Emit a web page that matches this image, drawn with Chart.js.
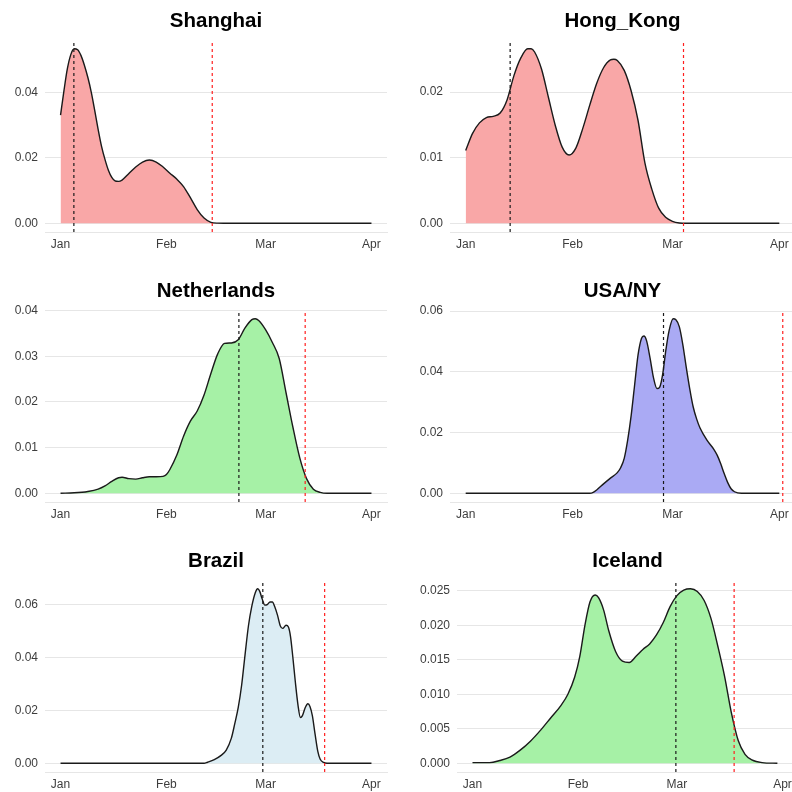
<!DOCTYPE html>
<html>
<head>
<meta charset="utf-8">
<script src="https://cdn.jsdelivr.net/npm/chart.js@4.4.1/dist/chart.umd.min.js"></script>
<style>
  html, body { margin: 0; padding: 0; background: #fff; overflow: hidden; }
  #page { position: relative; width: 792px; height: 792px; overflow: hidden; background: #fff; }
  #page canvas { position: absolute; }
</style>
</head>
<body>
<div id="page">
  <canvas id="shanghai"></canvas>
  <canvas id="hongkong"></canvas>
  <canvas id="netherlands"></canvas>
  <canvas id="usany"></canvas>
  <canvas id="brazil"></canvas>
  <canvas id="iceland"></canvas>
</div>
<script>
// x axis: days since 1 Jan 2020
const monthTicks = [0, 31, 60, 91];
const monthLabels = ['Jan', 'Feb', 'Mar', 'Apr'];

// Shanghai
const shanghaiDays = [0, 1, 2, 3, 4, 5, 6, 7, 8, 9, 10, 11, 12, 13, 14, 15, 16, 17, 18, 20, 22, 24, 26, 28, 30, 32, 34, 36, 38, 40, 42, 44, 46, 50, 91];
const shanghaiDensity = [0.033, 0.0405, 0.0472, 0.0515, 0.0533, 0.0530, 0.0512, 0.0482, 0.0445, 0.0400, 0.0345, 0.0287, 0.0235, 0.0195, 0.0162, 0.0140, 0.0129, 0.0128, 0.0132, 0.0152, 0.0172, 0.0187, 0.0193, 0.0187, 0.0172, 0.0153, 0.0135, 0.0112, 0.0078, 0.0042, 0.0016, 0.0003, 0.00005, 0, 0];
const shanghaiYTicks = [0, 0.02, 0.04];
const shanghaiYLabels = ['0.00', '0.02', '0.04'];
const shanghaiBlackLine = 3.9;
const shanghaiRedLine = 44.4;

// Hong_Kong
const hongKongDays = [0, 2, 4, 6, 8, 10, 12, 14, 16, 18, 19, 20, 22, 24, 26, 28, 30, 32, 34, 36, 38, 40, 42, 43, 44, 46, 48, 50, 52, 54, 56, 58, 60, 62, 64, 91];
const hongKongDensity = [0.0111, 0.0137, 0.0153, 0.0161, 0.0163, 0.0168, 0.0188, 0.0225, 0.0252, 0.0266, 0.0266, 0.0261, 0.0235, 0.0192, 0.0149, 0.0116, 0.0104, 0.0115, 0.0145, 0.0180, 0.0213, 0.0237, 0.0249, 0.0250, 0.0248, 0.0233, 0.0202, 0.0157, 0.0092, 0.0052, 0.0023, 0.0009, 0.0003, 0.00005, 0, 0];
const hongKongYTicks = [0, 0.01, 0.02];
const hongKongYLabels = ['0.00', '0.01', '0.02'];
const hongKongBlackLine = 12.9;
const hongKongRedLine = 63.2;

// Netherlands
const netherlandsDays = [0, 4, 8, 11, 13, 15, 17, 18, 20, 22, 24, 26, 28, 30, 31, 32, 34, 36, 38, 40, 42, 44, 46, 48, 50, 52, 54, 56, 57, 58, 60, 62, 64, 66, 68, 70, 72, 74, 76, 78, 91];
const netherlandsDensity = [0, 0.0001, 0.0004, 0.0009, 0.0016, 0.0026, 0.0034, 0.0035, 0.0032, 0.0031, 0.0034, 0.0036, 0.0036, 0.0037, 0.0041, 0.0052, 0.0083, 0.0125, 0.0158, 0.0180, 0.0215, 0.0262, 0.0305, 0.0328, 0.0329, 0.0336, 0.0362, 0.0380, 0.0382, 0.0378, 0.0358, 0.0330, 0.0295, 0.0220, 0.0145, 0.0078, 0.0032, 0.0009, 0.0002, 0, 0];
const netherlandsYTicks = [0, 0.01, 0.02, 0.03, 0.04];
const netherlandsYLabels = ['0.00', '0.01', '0.02', '0.03', '0.04'];
const netherlandsBlackLine = 52.2;
const netherlandsRedLine = 71.6;

// USA/NY
const usaNyDays = [0, 36, 37, 38, 40, 42, 44, 45, 46, 47, 48, 49, 50, 51, 51.7, 52.5, 53.5, 54.5, 55.5, 56.3, 57.2, 58, 59, 60.2, 61, 62, 63, 64, 65, 66, 67, 68, 70, 72, 73, 74, 75, 76, 77, 78, 80, 91];
const usaNyDensity = [0, 0, 0.0003, 0.0011, 0.0031, 0.0050, 0.0068, 0.0085, 0.0115, 0.0175, 0.0255, 0.0355, 0.0455, 0.0510, 0.0518, 0.0502, 0.0445, 0.0380, 0.0345, 0.0350, 0.0395, 0.0465, 0.0535, 0.0575, 0.0572, 0.0548, 0.0490, 0.0415, 0.0345, 0.0285, 0.0245, 0.0215, 0.0175, 0.0145, 0.0125, 0.0097, 0.0065, 0.0036, 0.0015, 0.0005, 0, 0];
const usaNyYTicks = [0, 0.02, 0.04, 0.06];
const usaNyYLabels = ['0.00', '0.02', '0.04', '0.06'];
const usaNyBlackLine = 57.4;
const usaNyRedLine = 92;

// Brazil
const brazilDays = [0, 42, 43, 45, 47, 48.5, 50, 51, 52, 53, 54, 55, 56, 57, 57.7, 58.3, 59, 59.8, 60.5, 61.3, 62, 62.7, 63.5, 64.3, 65, 66, 66.7, 67.3, 68, 68.7, 69.5, 70.2, 70.8, 71.6, 72.4, 73, 73.7, 74.5, 75.3, 76, 77, 78, 91];
const brazilDensity = [0, 0, 0.0004, 0.0014, 0.0030, 0.0050, 0.0095, 0.0150, 0.0210, 0.0295, 0.0410, 0.0520, 0.0595, 0.0645, 0.0660, 0.0650, 0.0622, 0.0598, 0.0600, 0.0610, 0.0610, 0.0592, 0.0560, 0.0520, 0.0510, 0.0522, 0.0515, 0.0480, 0.0400, 0.0310, 0.0220, 0.0173, 0.0180, 0.0210, 0.0225, 0.0215, 0.0180, 0.0110, 0.0045, 0.0015, 0.0003, 0, 0];
const brazilYTicks = [0, 0.02, 0.04, 0.06];
const brazilYLabels = ['0.00', '0.02', '0.04', '0.06'];
const brazilBlackLine = 59.2;
const brazilRedLine = 77.3;

// Iceland
const icelandDays = [0, 5, 8, 11, 14, 17, 20, 23, 26, 28, 30, 31.5, 33, 34.5, 36, 37, 38.5, 40, 42, 44, 46, 48, 50, 52, 54, 56, 58, 60, 62, 64, 66, 68, 70, 72, 74, 76, 78, 80, 82, 85, 89.5];
const icelandDensity = [0.0001, 0.0001, 0.0004, 0.0009, 0.0019, 0.0032, 0.0048, 0.0066, 0.0084, 0.0100, 0.0125, 0.0155, 0.0200, 0.0234, 0.0244, 0.0240, 0.0222, 0.0192, 0.0162, 0.0148, 0.0146, 0.0155, 0.0165, 0.0173, 0.0186, 0.0204, 0.0227, 0.0243, 0.0251, 0.0253, 0.0249, 0.0236, 0.0210, 0.0170, 0.0126, 0.0073, 0.0033, 0.0013, 0.0005, 0.0001, 0];
const icelandYTicks = [0, 0.005, 0.01, 0.015, 0.02, 0.025];
const icelandYLabels = ['0.000', '0.005', '0.010', '0.015', '0.020', '0.025'];
const icelandBlackLine = 59.7;
const icelandRedLine = 76.8;

const FONT = '"Liberation Sans", Arial, Helvetica, sans-serif';
const PINK = '#f9a7a7';
const GREEN = '#a6f1a6';
const BLUE = '#aaaaf4';
const PALE_BLUE = '#dcedf4';

// Canvas placement and axis sizing for each panel
const panels = [
  { id: 'shanghai', title: 'Shanghai', days: shanghaiDays, density: shanghaiDensity, yTicks: shanghaiYTicks, yLabels: shanghaiYLabels, black: shanghaiBlackLine, red: shanghaiRedLine, fill: PINK, left: 0, top: -6, width: 396, yWidth: 45, padRight: 9 },
  { id: 'hongkong', title: 'Hong_Kong', days: hongKongDays, density: hongKongDensity, yTicks: hongKongYTicks, yLabels: hongKongYLabels, black: hongKongBlackLine, red: hongKongRedLine, fill: PINK, left: 396, top: -6, width: 400, yWidth: 54, padRight: 1 },
  { id: 'netherlands', title: 'Netherlands', days: netherlandsDays, density: netherlandsDensity, yTicks: netherlandsYTicks, yLabels: netherlandsYLabels, black: netherlandsBlackLine, red: netherlandsRedLine, fill: GREEN, left: 0, top: 264, width: 396, yWidth: 45, padRight: 9 },
  { id: 'usany', title: 'USA/NY', days: usaNyDays, density: usaNyDensity, yTicks: usaNyYTicks, yLabels: usaNyYLabels, black: usaNyBlackLine, red: usaNyRedLine, fill: BLUE, left: 396, top: 264, width: 400, yWidth: 54, padRight: 1 },
  { id: 'brazil', title: 'Brazil', days: brazilDays, density: brazilDensity, yTicks: brazilYTicks, yLabels: brazilYLabels, black: brazilBlackLine, red: brazilRedLine, fill: PALE_BLUE, left: 0, top: 534, width: 396, yWidth: 45, padRight: 9 },
  { id: 'iceland', title: 'Iceland', days: icelandDays, density: icelandDensity, yTicks: icelandYTicks, yLabels: icelandYLabels, black: icelandBlackLine, red: icelandRedLine, fill: GREEN, left: 396, top: 534, width: 404, yWidth: 61, padRight: 2 }
];

// Panel title centred over the plotting area
const panelTitle = {
  id: 'panelTitle',
  afterDraw(chart, args, opts) {
    const { ctx, chartArea } = chart;
    ctx.save();
    ctx.font = 'bold 20.5px ' + FONT;
    ctx.fillStyle = '#000';
    ctx.textAlign = 'center';
    ctx.textBaseline = 'alphabetic';
    ctx.fillText(opts.text, (chartArea.left + chartArea.right) / 2, 33);
    ctx.restore();
  }
};

function drawPanel(p) {
  const canvas = document.getElementById(p.id);
  canvas.width = p.width;
  canvas.height = 270;
  canvas.style.left = p.left + 'px';
  canvas.style.top = p.top + 'px';

  const peak = Math.max(...p.density);
  const yMin = -0.05 * peak;
  const yMax = 1.05 * peak;
  const curve = p.days.map((d, i) => ({ x: d, y: p.density[i] }));
  const vline = x => [{ x: x, y: yMin }, { x: x, y: yMax }];
  const tickFont = { family: FONT, size: 12 };

  new Chart(canvas, {
    type: 'line',
    data: {
      datasets: [
        { data: vline(p.black), borderColor: '#1a1a1a', borderWidth: 1.2, borderDash: [3, 3], pointRadius: 0, fill: false, tension: 0, order: 0 },
        { data: vline(p.red), borderColor: '#ff1f1f', borderWidth: 1.2, borderDash: [3, 3], pointRadius: 0, fill: false, tension: 0, order: 0 },
        { data: curve, borderColor: '#1a1a1a', borderWidth: 1.4, backgroundColor: p.fill, fill: 'origin', pointRadius: 0, cubicInterpolationMode: 'monotone', order: 1 }
      ]
    },
    options: {
      responsive: false,
      animation: false,
      devicePixelRatio: 1,
      layout: { padding: { left: 0, right: p.padRight, top: 46, bottom: 0 } },
      plugins: {
        legend: { display: false },
        tooltip: { enabled: false },
        panelTitle: { text: p.title }
      },
      scales: {
        x: {
          type: 'linear',
          min: -4.55,
          max: 95.55,
          grid: { display: false, drawTicks: false },
          border: { display: true, color: '#e6e6e6', width: 1 },
          afterBuildTicks(scale) { scale.ticks = monthTicks.map(v => ({ value: v })); },
          afterFit(scale) { scale.height = 32; },
          ticks: {
            callback: (v, i) => monthLabels[i],
            padding: 5,
            font: tickFont,
            color: '#3d3d3d',
            maxRotation: 0,
            autoSkip: false
          }
        },
        y: {
          type: 'linear',
          min: yMin,
          max: yMax,
          grid: { color: '#e6e6e6', lineWidth: 1, drawTicks: false },
          border: { display: false },
          afterBuildTicks(scale) { scale.ticks = p.yTicks.map(v => ({ value: v })); },
          afterFit(scale) { scale.width = p.yWidth; },
          ticks: {
            callback: (v, i) => p.yLabels[i],
            padding: 7,
            font: tickFont,
            color: '#3d3d3d',
            autoSkip: false
          }
        }
      }
    },
    plugins: [panelTitle]
  });
}

panels.forEach(drawPanel);
</script>
</body>
</html>
